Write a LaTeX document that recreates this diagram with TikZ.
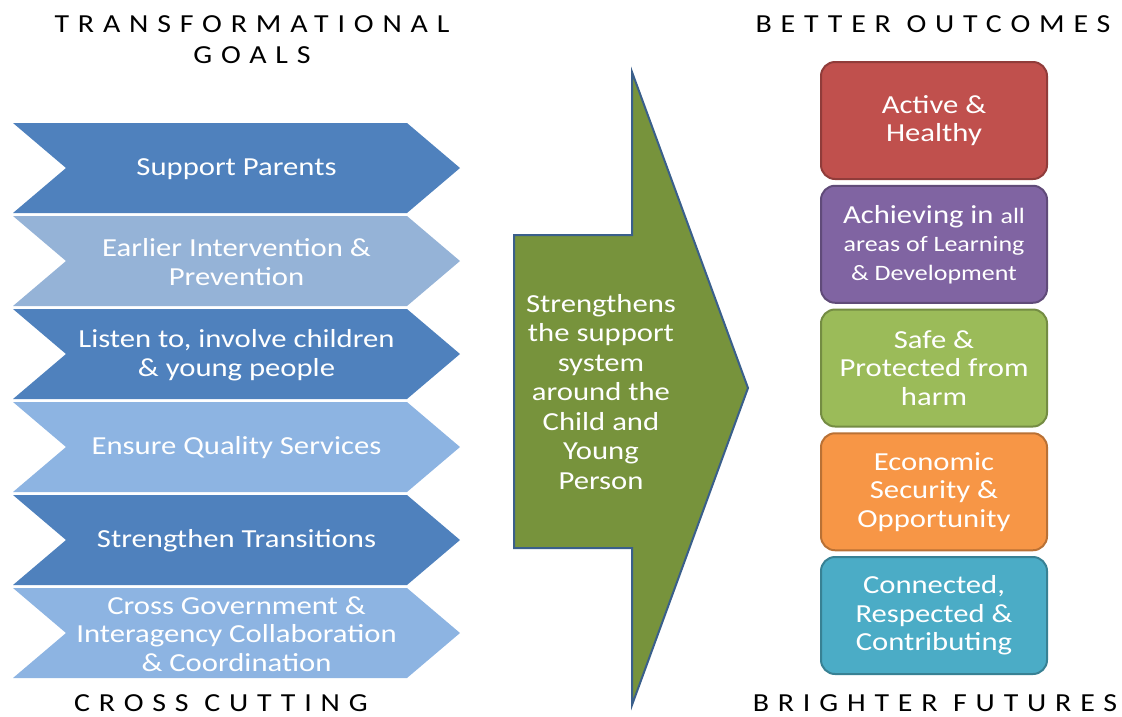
\documentclass[tikz,border=0pt]{standalone}
\usepackage{fontspec}
\setmainfont{Carlito}[FakeStretch=1.18]
\newfontfamily\spacedfont{Carlito}[LetterSpace=34,FakeStretch=1.15]
\definecolor{goaldark}{HTML}{4F81BD}
\definecolor{goalgrey}{HTML}{95B3D7}
\definecolor{goallight}{HTML}{8DB4E2}
\definecolor{arrowfill}{HTML}{77933C}
\definecolor{arrowline}{HTML}{3A5F8B}
\definecolor{healthy}{HTML}{C0504D}
\definecolor{achieving}{HTML}{8064A2}
\definecolor{safe}{HTML}{9BBB59}
\definecolor{economic}{HTML}{F79646}
\definecolor{connected}{HTML}{4BACC6}
\begin{document}
\begin{tikzpicture}[
	x=1pt,y=-1pt,
	font=\fontsize{26}{28.5}\selectfont,
	goal/.style={text=white,align=center},
	heading/.style={font=\fontsize{26}{31}\selectfont\spacedfont,align=center,inner sep=1pt},
	outcome/.style={rounded corners=14pt,line width=2pt,minimum width=226pt,minimum height=117pt,text=white,align=center},
	]
\useasboundingbox (0,0) rectangle (1122,716);
\node [heading,anchor=base] (transformational) at (252,63) {TRANSFORMATIONAL\\GOALS};
\node [heading,anchor=base] (crosscutting) at (221,711) {CROSS CUTTING};
\node [heading,anchor=base] (better) at (933,32) {BETTER OUTCOMES};
\node [heading,anchor=base] (brighter) at (935,711) {BRIGHTER FUTURES};
\foreach \n/\y/\c/\t in {
	1/123/goaldark/{Support Parents},
	2/216/goalgrey/{Earlier Intervention \&\\Prevention},
	3/309/goaldark/{Listen to, involve children\\\& young people},
	4/402/goallight/{Ensure Quality Services},
	5/495/goaldark/{Strengthen Transitions},
	6/588/goallight/{Cross Government \&\\Interagency Collaboration\\\& Coordination}}
{
	\fill [color=\c] (13,\y) -- (407,\y) -- (460,\y+45) -- (407,\y+90) -- (13,\y+90) -- (66,\y+45) -- cycle;
	\node [goal] (goal\n) at (236.5,\y+46) {\t};
}
\draw [fill=arrowfill,draw=arrowline,line width=2pt,line join=miter]
	(514,235) -- (632,235) -- (632,72) -- (748,388) -- (632,705) -- (632,548) -- (514,548) -- cycle;
\node [goal,font=\fontsize{26}{29.5}\selectfont] (support) at (601,392) {Strengthens\\the support\\system\\around the\\Child and\\Young\\Person};
\foreach \n/\c/\t in {
	1/healthy/{Active \&\\Healthy},
	2/achieving/{\fontsize{26}{26}\selectfont Achieving in {\fontsize{22}{26}\selectfont all}\\\fontsize{22}{26}\selectfont areas of Learning\\\fontsize{22}{26}\selectfont\& Development},
	3/safe/{Safe \&\\Protected from\\harm},
	4/economic/{Economic\\Security \&\\Opportunity},
	5/connected/{Connected,\\Respected \&\\Contributing}}
{
	\node [outcome,fill=\c,draw=\c!75!black] (outcome\n) at (934,{120.5+123.75*(\n-1)}) {\t};
}
\end{tikzpicture}
\end{document}
